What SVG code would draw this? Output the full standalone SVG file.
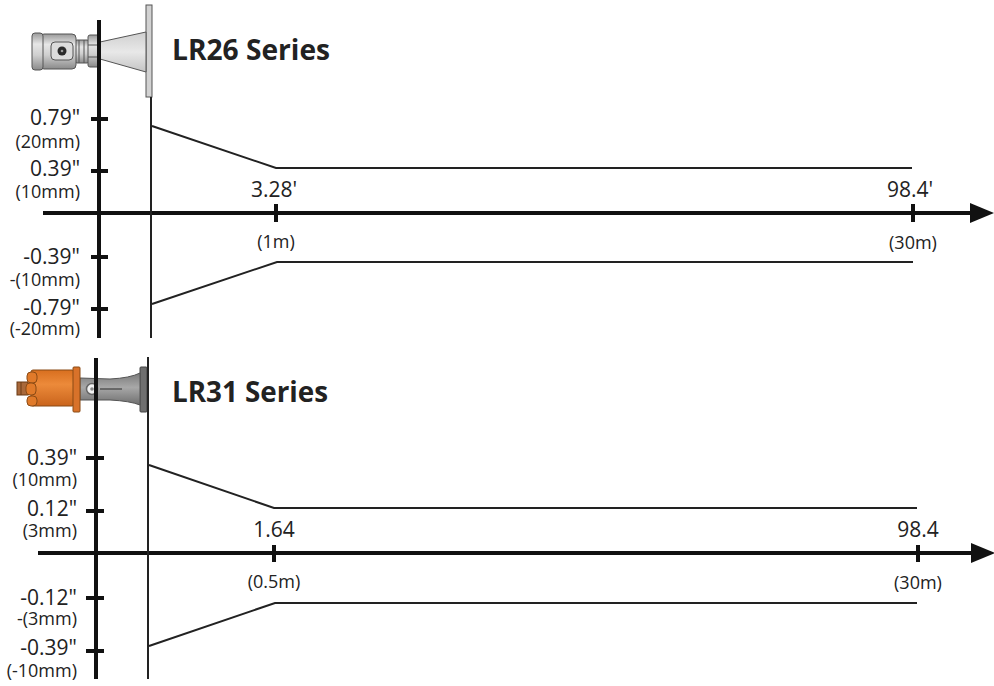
<svg xmlns="http://www.w3.org/2000/svg" width="994" height="686" viewBox="0 0 994 686">
<style>
.ax{stroke:#111;stroke-width:4;fill:none}
.tk{stroke:#111;stroke-width:4}
.thin{stroke:#222;stroke-width:2;fill:none}
.beam{stroke:#222;stroke-width:2;fill:none}
.lbl{font-family:"Open Sans","DejaVu Sans",sans-serif;font-size:21px;fill:#222}
.sub{font-family:"Open Sans","DejaVu Sans",sans-serif;font-size:18px;fill:#222}
.ttl{font-family:"Open Sans","DejaVu Sans",sans-serif;font-size:28px;font-weight:bold;fill:#222}
.mt{stroke:#555;stroke-width:1}
.or{stroke:#8a4a14;stroke-width:1}
</style>
<defs>
<marker id="arr" markerUnits="userSpaceOnUse" markerWidth="24" markerHeight="20" refX="0" refY="10" orient="auto">
<path d="M0,0 L24,10 L0,20 z" fill="#111"/>
</marker>
<linearGradient id="metal" x1="0" y1="0" x2="0" y2="1">
<stop offset="0" stop-color="#9a9a9a"/>
<stop offset="0.3" stop-color="#e6e6e6"/>
<stop offset="0.6" stop-color="#cfcfcf"/>
<stop offset="1" stop-color="#8a8a8a"/>
</linearGradient>
<linearGradient id="horn" x1="0" y1="0" x2="0" y2="1">
<stop offset="0" stop-color="#cfcfcf"/>
<stop offset="0.5" stop-color="#e8e8e8"/>
<stop offset="1" stop-color="#c4c4c4"/>
</linearGradient>
<linearGradient id="orange" x1="0" y1="0" x2="0" y2="1">
<stop offset="0" stop-color="#d86f1f"/>
<stop offset="0.4" stop-color="#ec8a3a"/>
<stop offset="1" stop-color="#c9641c"/>
</linearGradient>
<linearGradient id="shaft" x1="0" y1="0" x2="0" y2="1">
<stop offset="0" stop-color="#7a7a7a"/>
<stop offset="0.45" stop-color="#a8a8a8"/>
<stop offset="1" stop-color="#6e6e6e"/>
</linearGradient>
</defs>
<rect width="994" height="686" fill="#ffffff"/>

<g id="lr26-panel">
<g id="lr26-sensor">
<rect x="146" y="5" width="6" height="92" fill="#d2d2d2" class="mt"/>
<polygon points="100,42 146,32 146,72 100,59" fill="url(#horn)" class="mt"/>
<rect x="75" y="40" width="14" height="23" rx="2" fill="url(#metal)" class="mt"/>
<line x1="79" y1="40" x2="79" y2="63" class="mt"/>
<line x1="84" y1="40" x2="84" y2="63" class="mt"/>
<rect x="88" y="35" width="12" height="32" rx="2" fill="url(#metal)" class="mt"/>
<line x1="88" y1="45" x2="100" y2="45" class="mt"/>
<line x1="88" y1="57" x2="100" y2="57" class="mt"/>
<rect x="40" y="34" width="36" height="35" rx="4" fill="url(#metal)" class="mt"/>
<rect x="32" y="33" width="11" height="37" rx="3" fill="url(#metal)" class="mt"/>
<rect x="51" y="42" width="22" height="18" rx="4" fill="#dcdcdc" class="mt"/>
<circle cx="62" cy="51" r="4.5" fill="#2a2a2a"/>
<circle cx="62" cy="51" r="1.3" fill="#9a9a9a"/>
</g>
<text class="ttl" x="172" y="60" textLength="158" lengthAdjust="spacingAndGlyphs">LR26 Series</text>
<g id="lr26-axes">
<line x1="99" y1="20" x2="99" y2="338" class="ax"/>
<line x1="43" y1="213" x2="970" y2="213" class="ax" marker-end="url(#arr)"/>
<line x1="91" y1="119" x2="108" y2="119" class="tk"/>
<line x1="91" y1="171" x2="108" y2="171" class="tk"/>
<line x1="91" y1="257" x2="108" y2="257" class="tk"/>
<line x1="91" y1="309" x2="108" y2="309" class="tk"/>
<line x1="276" y1="204" x2="276" y2="222" class="tk"/>
<line x1="913" y1="204" x2="913" y2="222" class="tk"/>
<line x1="151" y1="97" x2="151" y2="338" class="thin"/>
</g>
<g id="lr26-beam">
<polyline points="152,126 276,168 912,168" class="beam"/>
<polyline points="152,304 277,262 913,262" class="beam"/>
</g>
<g id="lr26-labels">
<text class="lbl" x="80" y="125" text-anchor="end">0.79"</text>
<text class="sub" x="80" y="148" text-anchor="end">(20mm)</text>
<text class="lbl" x="80" y="176" text-anchor="end">0.39"</text>
<text class="sub" x="80" y="198" text-anchor="end">(10mm)</text>
<text class="lbl" x="80" y="264" text-anchor="end">-0.39"</text>
<text class="sub" x="80" y="286" text-anchor="end">-(10mm)</text>
<text class="lbl" x="80" y="315" text-anchor="end">-0.79"</text>
<text class="sub" x="80" y="335" text-anchor="end">(-20mm)</text>
<text class="lbl" x="274" y="197" text-anchor="middle">3.28'</text>
<text class="sub" x="276" y="248" text-anchor="middle">(1m)</text>
<text class="lbl" x="910" y="197" text-anchor="middle">98.4'</text>
<text class="sub" x="913" y="249" text-anchor="middle">(30m)</text>
</g>
</g>

<g id="lr31-panel">
<g id="lr31-sensor">
<rect x="140" y="367" width="7" height="45" rx="1" fill="#6f6f6f" stroke="#444" stroke-width="1"/>
<path d="M80,378 L110,379 Q130,378 140,373 L140,405 Q130,401 110,400 L80,400 z" fill="url(#shaft)" stroke="#555" stroke-width="1"/>
<line x1="100" y1="389" x2="122" y2="389" stroke="#555" stroke-width="1.5"/>
<circle cx="92" cy="389" r="5.5" fill="#f2f2f2" stroke="#666" stroke-width="1.5"/>
<circle cx="92" cy="389" r="1.8" fill="#888"/>
<rect x="17" y="382" width="11" height="13" fill="#a8683a" stroke="#6a3a14" stroke-width="1"/>
<line x1="21" y1="382" x2="21" y2="395" stroke="#6a3a14" stroke-width="1"/>
<rect x="31" y="370" width="43" height="36" rx="2" fill="url(#orange)" class="or"/>
<rect x="27" y="372" width="10" height="11" rx="4" fill="#e07a2a" class="or"/>
<rect x="26" y="383" width="10" height="12" rx="4" fill="#e07a2a" class="or"/>
<rect x="27" y="396" width="10" height="10" rx="4" fill="#e07a2a" class="or"/>
<rect x="73" y="367" width="7" height="45" rx="1" fill="#d8722a" class="or"/>
</g>
<text class="ttl" x="172" y="402" textLength="156" lengthAdjust="spacingAndGlyphs">LR31 Series</text>
<g id="lr31-axes">
<line x1="96" y1="358" x2="96" y2="679" class="ax"/>
<line x1="38" y1="553" x2="971" y2="553" class="ax" marker-end="url(#arr)"/>
<line x1="86" y1="458" x2="104" y2="458" class="tk"/>
<line x1="86" y1="511" x2="104" y2="511" class="tk"/>
<line x1="86" y1="598" x2="104" y2="598" class="tk"/>
<line x1="86" y1="651" x2="104" y2="651" class="tk"/>
<line x1="274" y1="545" x2="274" y2="562" class="tk"/>
<line x1="918" y1="545" x2="918" y2="562" class="tk"/>
<line x1="148" y1="357" x2="148" y2="679" class="thin"/>
</g>
<g id="lr31-beam">
<polyline points="149,465 274,508 917,508" class="beam"/>
<polyline points="149,646 275,603 917,603" class="beam"/>
</g>
<g id="lr31-labels">
<text class="lbl" x="77" y="465" text-anchor="end">0.39"</text>
<text class="sub" x="77" y="486" text-anchor="end">(10mm)</text>
<text class="lbl" x="77" y="516" text-anchor="end">0.12"</text>
<text class="sub" x="77" y="537" text-anchor="end">(3mm)</text>
<text class="lbl" x="77" y="605" text-anchor="end">-0.12"</text>
<text class="sub" x="77" y="625" text-anchor="end">-(3mm)</text>
<text class="lbl" x="77" y="655" text-anchor="end">-0.39"</text>
<text class="sub" x="77" y="677" text-anchor="end">(-10mm)</text>
<text class="lbl" x="274" y="537" text-anchor="middle">1.64</text>
<text class="sub" x="274" y="588" text-anchor="middle">(0.5m)</text>
<text class="lbl" x="918" y="537" text-anchor="middle">98.4</text>
<text class="sub" x="918" y="589" text-anchor="middle">(30m)</text>
</g>
</g>
</svg>
